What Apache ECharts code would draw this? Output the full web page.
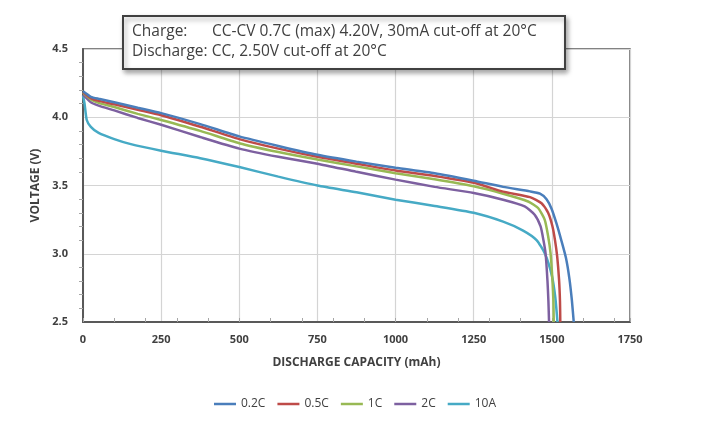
<!DOCTYPE html>
<html>
<head>
<meta charset="utf-8">
<title>Discharge curves</title>
<style>
  html, body { margin: 0; padding: 0; background: #fff; }
  #main { width: 710px; height: 423px; }
</style>
</head>
<body>
<div id="main"></div>
<script src="https://cdn.jsdelivr.net/npm/echarts@6/dist/echarts.min.js"></script>
<script>
// [capacity mAh, voltage V]
var rate02C = [[0,4.19],[25,4.15],[50,4.135],[100,4.11],[175,4.07],[250,4.03],[375,3.95],[500,3.86],[625,3.79],[750,3.725],[875,3.675],[1000,3.63],[1125,3.59],[1250,3.535],[1344,3.49],[1430,3.457],[1462,3.44],[1483,3.40],[1499,3.33],[1515,3.22],[1530,3.10],[1545,2.97],[1556,2.82],[1564,2.66],[1570,2.5]];
var rate05C = [[0,4.185],[25,4.14],[50,4.12],[100,4.095],[175,4.055],[250,4.015],[375,3.93],[500,3.84],[625,3.77],[750,3.71],[875,3.66],[1000,3.61],[1125,3.57],[1250,3.52],[1344,3.455],[1430,3.415],[1467,3.37],[1488,3.30],[1502,3.20],[1510,3.10],[1517,2.98],[1523,2.81],[1526,2.65],[1527,2.5]];
var rate1C = [[0,4.18],[25,4.13],[50,4.105],[100,4.075],[175,4.025],[250,3.98],[375,3.90],[500,3.81],[625,3.745],[750,3.69],[875,3.64],[1000,3.59],[1125,3.545],[1250,3.494],[1344,3.44],[1424,3.383],[1456,3.335],[1477,3.25],[1488,3.13],[1496,3.0],[1502,2.8],[1505,2.65],[1506,2.5]];
var rate2C = [[0,4.165],[25,4.11],[50,4.085],[100,4.05],[175,3.995],[250,3.945],[375,3.855],[500,3.77],[625,3.71],[750,3.66],[875,3.60],[1000,3.543],[1125,3.49],[1250,3.445],[1344,3.396],[1413,3.347],[1445,3.286],[1464,3.20],[1473,3.10],[1480,3.0],[1486,2.8],[1489,2.65],[1491,2.5]];
var rate10A = [[0,4.16],[5,4.10],[12,3.98],[25,3.93],[50,3.885],[100,3.84],[150,3.805],[250,3.755],[375,3.70],[500,3.635],[625,3.565],[750,3.50],[875,3.45],[1000,3.396],[1125,3.35],[1250,3.30],[1344,3.235],[1408,3.17],[1451,3.10],[1478,3.0],[1500,2.84],[1511,2.68],[1518,2.5]];

var seriesNames = ['0.2C', '0.5C', '1C', '2C', '10A'];
var seriesData = [rate02C, rate05C, rate1C, rate2C, rate10A];
var colors = ['#4a7ebb', '#be4b48', '#98b954', '#7d60a0', '#46aac5'];

var xTicks = [0, 250, 500, 750, 1000, 1250, 1500, 1750];
var yTicks = [2.5, 3.0, 3.5, 4.0, 4.5];

var chartDom = document.getElementById('main');
var myChart = echarts.init(chartDom);
var font = '"Open Sans", "Noto Sans", sans-serif';

var series = [];
for (var i = 0; i < seriesNames.length; i++) {
  series.push({
    name: seriesNames[i],
    type: 'line',
    data: seriesData[i],
    showSymbol: false,
    smooth: 0.2,
    lineStyle: { width: 2.5, color: colors[i] },
    itemStyle: { color: colors[i] },
    z: 10 - i
  });
}

var option = {
  animation: false,
  textStyle: { fontFamily: font },
  grid: {
    left: 83, right: 80, top: 49, bottom: 101,
    show: true, borderColor: '#595959', borderWidth: 1.5
  },
  legend: {
    bottom: 8,
    left: 'center',
    data: seriesNames,
    icon: 'rect',
    itemWidth: 22,
    itemHeight: 2.5,
    itemGap: 12,
    textStyle: { color: '#404040', fontSize: 12, fontFamily: font }
  },
  xAxis: [{
    type: 'value',
    min: xTicks[0],
    max: xTicks[xTicks.length - 1],
    interval: 250,
    name: 'DISCHARGE CAPACITY (mAh)',
    nameLocation: 'middle',
    nameGap: 35,
    nameTextStyle: { color: '#404040', fontWeight: 'bold', fontSize: 12 },
    axisLine: { lineStyle: { color: '#595959', width: 2 } },
    axisTick: { show: false },
    axisLabel: {
      color: '#404040', fontWeight: 'bold', fontSize: 11, margin: 12,
      formatter: function (v) { return String(v); }
    },
    splitLine: { show: true, lineStyle: { color: '#d4d4d4', width: 1.2 } }
  }, {
    // tick marks every 100 mAh along the bottom
    type: 'value',
    position: 'bottom',
    min: 0,
    max: 1750,
    interval: 100,
    axisLine: { show: false },
    axisTick: { show: true, inside: true, length: 4, lineStyle: { color: '#a6a6a6' } },
    axisLabel: { show: false },
    splitLine: { show: false }
  }],
  yAxis: {
    type: 'value',
    min: yTicks[0],
    max: yTicks[yTicks.length - 1],
    interval: 0.5,
    name: 'VOLTAGE (V)',
    nameLocation: 'middle',
    nameGap: 41,
    nameTextStyle: { color: '#404040', fontWeight: 'bold', fontSize: 12 },
    axisLine: { show: true, lineStyle: { color: '#595959', width: 2 } },
    axisTick: { show: false },
    minorTick: { show: true, splitNumber: 5, length: 4, lineStyle: { color: '#a6a6a6' } },
    axisLabel: {
      color: '#404040', fontWeight: 'bold', fontSize: 11, margin: 15,
      formatter: function (v) { return v.toFixed(1); }
    },
    splitLine: { show: true, lineStyle: { color: '#d4d4d4', width: 1.2 } }
  },
  graphic: [{
    type: 'rect',
    left: 122,
    top: 15,
    z: 100,
    zlevel: 1,
    shape: { width: 442, height: 53 },
    style: {
      fill: '#fff', stroke: '#404040', lineWidth: 2,
      shadowBlur: 5, shadowOffsetX: 2, shadowOffsetY: 3, shadowColor: 'rgba(0,0,0,0.35)'
    }
  }, {
    type: 'text',
    left: 132, top: 24,
    z: 101,
    zlevel: 1,
    style: { text: 'Charge:', fill: '#404040', font: '15.5px ' + font }
  }, {
    type: 'text',
    left: 212, top: 24,
    z: 101,
    zlevel: 1,
    style: { text: 'CC-CV 0.7C (max) 4.20V, 30mA cut-off at 20°C', fill: '#404040', font: '15.5px ' + font }
  }, {
    type: 'text',
    left: 132, top: 44,
    z: 101,
    zlevel: 1,
    style: { text: 'Discharge: CC, 2.50V cut-off at 20°C', fill: '#404040', font: '15.5px ' + font }
  }],
  series: series
};

option && myChart.setOption(option);
</script>
</body>
</html>
